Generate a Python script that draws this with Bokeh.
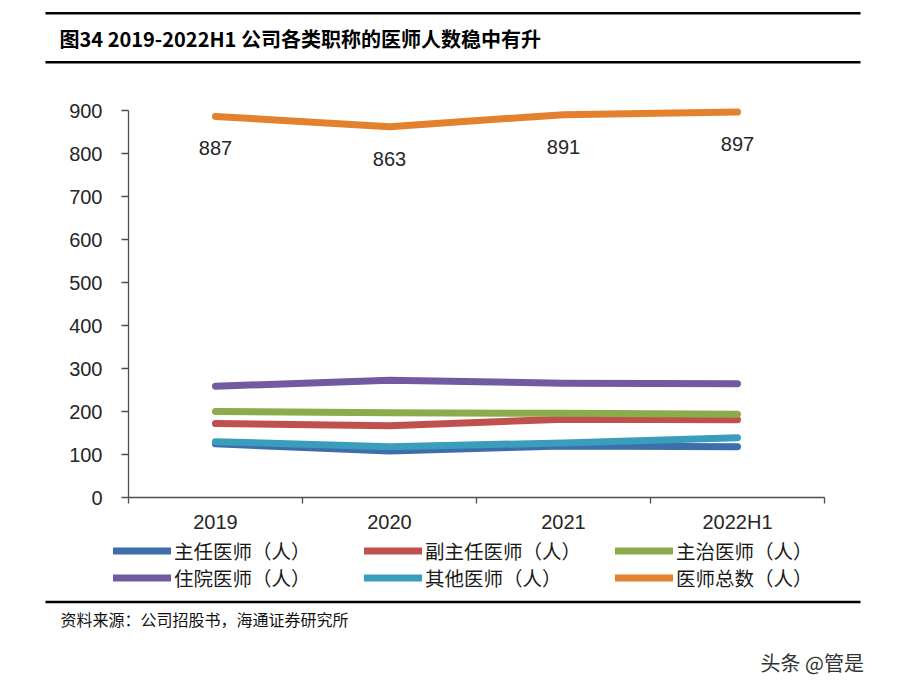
from bokeh.plotting import figure
from bokeh.models import Range1d, FixedTicker, Legend, LegendItem
from bokeh.layouts import column
from bokeh.embed import file_html
from bokeh.resources import INLINE
from bokeh.core.properties import value

# ---------------- data ----------------
categories = ["2019", "2020", "2021", "2022H1"]
zhuren = [125, 108, 120, 118]        # 主任医师
fuzhuren = [172, 167, 182, 181]      # 副主任医师
zhuzhi = [200, 197, 196, 194]        # 主治医师
zhuyuan = [259, 273, 266, 265]       # 住院医师
qita = [130, 118, 127, 139]          # 其他医师
total = [887, 863, 891, 897]         # 医师总数
y_ticks = [0, 100, 200, 300, 400, 500, 600, 700, 800, 900]
series_names = ["主任医师（人）", "副主任医师（人）", "主治医师（人）",
                "住院医师（人）", "其他医师（人）", "医师总数（人）"]
series_colors = ["#3D6DAB", "#C0504D", "#8CAB4A", "#7359A0", "#3A9DBB", "#E3812F"]
title_text = "图34 2019-2022H1 公司各类职称的医师人数稳中有升"
source_text = "资料来源：公司招股书，海通证券研究所"
watermark_text = "头条 @管是"

W = 884
CJK = "Noto Sans CJK SC"
LAT = "Liberation Sans"
LW = 7

# ---------------- top (title) ----------------
top = figure(width=W, height=70, x_range=Range1d(0, W), y_range=Range1d(70, 0),
             x_axis_location=None, y_axis_location=None, toolbar_location=None,
             output_backend="svg", min_border=0, outline_line_color=None,
             frame_align=False)
top.grid.visible = False
top.segment(x0=[45, 45], y0=[12.7, 61.7], x1=[860, 860], y1=[12.7, 61.7],
            line_color="#000000", line_width=2.5)
top.text(x=[59], y=[37.5], text=[title_text], text_font=value(CJK),
         text_font_style="bold", text_font_size="20px", text_color="#000000",
         text_align="left", text_baseline="middle")

# ---------------- main chart ----------------
xs = [i + 0.5 for i in range(len(categories))]
p = figure(width=W, height=465, x_range=Range1d(0, len(categories)),
           y_range=Range1d(0, 910), toolbar_location=None, output_backend="svg",
           min_border_left=128, min_border_right=60, min_border_top=36,
           min_border_bottom=38, outline_line_color=None, frame_align=False)
p.grid.visible = False

series = [zhuren, fuzhuren, zhuzhi, zhuyuan, qita, total]
for vals, col in zip(series, series_colors):
    p.line(xs, vals, line_color=col, line_width=LW, line_cap="round",
           line_join="round")

p.text(x=xs, y=total, text=[str(v) for v in total], y_offset=32,
       text_font=value(LAT), text_font_size="20px", text_color="#262626",
       text_align="center", text_baseline="middle")

# x axis: labels at category centres, ticks between categories
xa = p.xaxis[0]
xa.ticker = FixedTicker(ticks=xs, minor_ticks=list(range(len(categories) + 1)))
xa.major_label_overrides = {x: c for x, c in zip(xs, categories)}
xa.major_tick_out = 0
xa.major_tick_in = 0
xa.minor_tick_out = 6
xa.minor_tick_in = 0
xa.minor_tick_line_color = "#4d4d4d"
xa.minor_tick_line_width = 1.3
xa.axis_line_color = "#4d4d4d"
xa.axis_line_width = 1.3
xa.major_label_standoff = 7
xa.major_label_text_font = LAT
xa.major_label_text_font_size = "20px"
xa.major_label_text_color = "#262626"

ya = p.yaxis[0]
ya.ticker = FixedTicker(ticks=y_ticks, minor_ticks=[])
ya.bounds = (0, 900)
ya.major_tick_out = 7
ya.major_tick_in = 0
ya.minor_tick_out = 0
ya.minor_tick_in = 0
ya.major_tick_line_color = "#4d4d4d"
ya.major_tick_line_width = 1.3
ya.axis_line_color = "#4d4d4d"
ya.axis_line_width = 1.3
ya.major_label_standoff = 19
ya.major_label_text_font = LAT
ya.major_label_text_font_size = "20px"
ya.major_label_text_color = "#262626"

# ---------------- bottom (legend + source + watermark) ----------------
BH = 150
bot = figure(width=W, height=BH, x_range=Range1d(0, W), y_range=Range1d(BH, 0),
             x_axis_location=None, y_axis_location=None, toolbar_location=None,
             output_backend="svg", min_border=0, outline_line_color=None,
             frame_align=False)
bot.grid.visible = False

# legend key renderers (same line styles as the series; they plot nothing)
nan = float("nan")
keys = [bot.line(x=[nan], y=[nan], line_color=col, line_width=LW, line_cap="round")
        for col in series_colors]
for row, ypos in ((0, 120), (1, 93)):
    items = [LegendItem(label=series_names[row * 3 + k], renderers=[keys[row * 3 + k]])
             for k in range(3)]
    lg = Legend(items=items, orientation="horizontal", location=(113, ypos),
                padding=0, margin=0, spacing=30, glyph_width=58, glyph_height=23,
                label_width=160, label_height=23, label_standoff=3,
                label_text_font=CJK, label_text_font_size="19.5px",
                label_text_line_height=1.0,
                label_text_color="#1a1a1a", border_line_color=None,
                background_fill_alpha=0)
    bot.add_layout(lg, "center")

bot.segment(x0=[45], y0=[66.5], x1=[860], y1=[66.5], line_color="#000000", line_width=2.5)
bot.text(x=[60], y=[83], text=[source_text], text_font=value(CJK),
         text_font_size="16px", text_color="#111111", text_align="left",
         text_baseline="middle")
bot.text(x=[760], y=[127], text=[watermark_text], text_font=value(CJK),
         text_font_size="20px", text_color="#333333", text_align="left",
         text_baseline="middle")

layout = column(top, p, bot, spacing=0)
open("out.html", "w").write(file_html(layout, INLINE))
